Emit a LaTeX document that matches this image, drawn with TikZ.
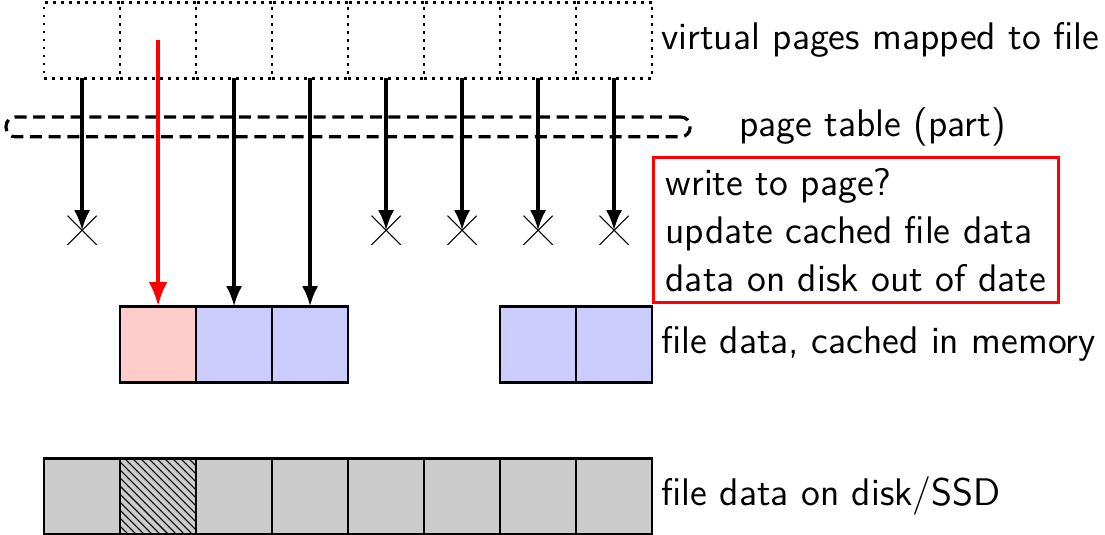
\documentclass[tikz,border=0pt]{standalone}
\usepackage{xcolor}
\usepackage{tikz}
\usetikzlibrary{arrows.meta, positioning, shapes.misc, patterns}
\definecolor{pgGray}{HTML}{CCCCCC}
\definecolor{pgBlue}{HTML}{CCCCFF}
\definecolor{pgPink}{HTML}{FFCCCC}
\tikzset{
  cell/.style={draw, line width=1pt, minimum size=1cm, inner sep=0pt, outer sep=0pt},
  vcell/.style={cell, dotted},
  dcell/.style={cell, fill=pgGray},
  nomap/.style={cross out, draw, minimum size=0.37cm, inner sep=0pt},
  maparrow/.style={-{Latex[length=7.5pt,width=6pt]}, very thick},
  pgtable/.style={draw, very thick, dash pattern=on 4.5pt off 2.5pt, rounded corners=0.12cm,
    minimum width=9cm, minimum height=0.26cm, inner sep=0pt},
  note/.style={draw=red, very thick, align=left, inner xsep=4.5pt, inner ysep=4pt}
}

\begin{document}
\begin{tikzpicture}[font=\sffamily\Large]
  \useasboundingbox (-0.58,0) rectangle (13.96,7.03);
  % virtual pages and the disk copy
  \foreach \i in {0,...,7} {
    \node[vcell] (v\i) at (\i+0.5,6.5) {};
    \node[dcell] (d\i) at (\i+0.5,0.5) {};
  }
  \fill[pattern=north west lines] (d1.south west) rectangle (d1.north east);
  \draw[line width=1pt] (d1.south west) rectangle (d1.north east);
  % cached in memory
  \foreach \i/\c in {1/pgPink,2/pgBlue,3/pgBlue,6/pgBlue,7/pgBlue}
    \node[cell, fill=\c] (m\i) at (\i+0.5,2.5) {};
  \node[pgtable] (pt) at (4,5.36) {};
  % page table entries
  \foreach \i in {0,4,5,6,7} {
    \node[nomap] (n\i) at (\i+0.5,4) {};
    \draw[maparrow] (v\i.south) -- (n\i.center);
  }
  \foreach \i in {2,3}
    \draw[maparrow] (v\i.south) -- (m\i.north);
  \draw[-{Latex[length=9pt,width=7pt]}, red, line width=1.5pt] (v1.center) -- (m1.north);
  \node[right=0pt of v7] (lv) {virtual pages mapped to file};
  \node[right=0.5cm of pt] (lpt) {page table (part)};
  \node[note, anchor=west] (note) at (8,4) {write to page?\\update cached file data\\data on disk out of date};
  \node[right=0pt of m7] (lm) {file data, cached in memory};
  \node[right=0pt of d7] (ld) {file data on disk/SSD};
\end{tikzpicture}
\end{document}
